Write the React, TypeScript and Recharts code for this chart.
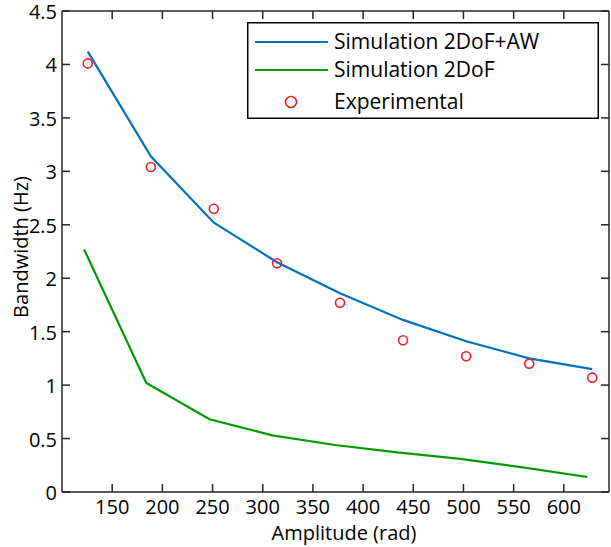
import {
  ComposedChart,
  Label,
  Legend,
  Line,
  Scatter,
  XAxis,
  YAxis,
} from "recharts";

// amplitude (rad) vs bandwidth (Hz)
const simAwX = [125.7, 188.5, 251.3, 314.2, 377.0, 439.8, 502.7, 565.5, 628.3];
const simAwY = [4.12, 3.14, 2.52, 2.15, 1.86, 1.61, 1.41, 1.25, 1.15];

const sim2dofX = [122, 184, 247, 309.5, 372, 434, 497, 559, 623.5];
const sim2dofY = [2.27, 1.02, 0.68, 0.53, 0.44, 0.37, 0.31, 0.23, 0.14];

const expX = [125.7, 188.5, 251.3, 314.2, 377.0, 439.8, 502.7, 565.5, 628.3];
const expY = [4.01, 3.04, 2.65, 2.14, 1.77, 1.42, 1.27, 1.2, 1.07];

const xTicks = [150, 200, 250, 300, 350, 400, 450, 500, 550, 600];
const yTicks = [0, 0.5, 1, 1.5, 2, 2.5, 3, 3.5, 4, 4.5];

const BLUE = "#0072bd";
const GREEN = "#009a00";
const RED = "#ee1c25";
const AXIS = "#262626";
const FONT = "'Open Sans', sans-serif";
const TICK_LEN = 8;

const zip = (xs: number[], ys: number[]) => xs.map((x, i) => ({ x, y: ys[i] }));
const simAw = zip(simAwX, simAwY);
const sim2dof = zip(sim2dofX, sim2dofY);
const exp = zip(expX, expY);

const BottomTick = (props: any) => {
  const { x, y, payload } = props;
  return (
    <g>
      <line x1={x} y1={y} x2={x} y2={y - TICK_LEN} stroke={AXIS} strokeWidth={1.5} />
      <text x={x} y={y + 22} textAnchor="middle" fontSize={20} fontFamily={FONT} fill="#000">
        {payload.value}
      </text>
    </g>
  );
};

const TopTick = (props: any) => {
  const { x, y } = props;
  return <line x1={x} y1={y} x2={x} y2={y + TICK_LEN} stroke={AXIS} strokeWidth={1.5} />;
};

const LeftTick = (props: any) => {
  const { x, y, payload } = props;
  return (
    <g>
      <line x1={x} y1={y} x2={x + TICK_LEN} y2={y} stroke={AXIS} strokeWidth={1.5} />
      <text x={x - 5} y={y + 8} textAnchor="end" fontSize={20} fontFamily={FONT} fill="#000">
        {payload.value}
      </text>
    </g>
  );
};

const RightTick = (props: any) => {
  const { x, y } = props;
  return <line x1={x} y1={y} x2={x - TICK_LEN} y2={y} stroke={AXIS} strokeWidth={1.5} />;
};

const Circle = (props: any) => (
  <circle cx={props.cx} cy={props.cy} r={4.5} fill="none" stroke={RED} strokeWidth={1.6} />
);

const LegendBox = () => (
  <svg width={352} height={97} style={{ display: "block" }}>
    <rect x={0.75} y={0.75} width={350.5} height={95.5} fill="#fff" stroke="#000" strokeWidth={1.5} />
    <line x1={8} y1={20} x2={81} y2={20} stroke={BLUE} strokeWidth={2} />
    <text x={87} y={27} fontSize={21} fontFamily={FONT} fill="#000">Simulation 2DoF+AW</text>
    <line x1={8} y1={48} x2={81} y2={48} stroke={GREEN} strokeWidth={2} />
    <text x={87} y={55} fontSize={21} fontFamily={FONT} fill="#000">Simulation 2DoF</text>
    <circle cx={44} cy={80} r={5.5} fill="none" stroke={RED} strokeWidth={1.6} />
    <text x={87} y={87} fontSize={21} fontFamily={FONT} fill="#000">Experimental</text>
  </svg>
);

export default function App() {
  return (
    <div style={{ position: "absolute", left: 0, top: 0, background: "#fff" }}>
      <ComposedChart
        width={611}
        height={547}
        margin={{ top: 10, right: 1, bottom: 54, left: 61 }}
      >
        <XAxis
          xAxisId="b"
          dataKey="x"
          type="number"
          domain={[100, 645]}
          ticks={xTicks}
          allowDataOverflow
          height={1}
          tickSize={0}
          tickMargin={0}
          tick={<BottomTick />}
          stroke={AXIS}
          strokeWidth={1.5}
        >
          <Label
            content={() => (
              <text x={344} y={540} textAnchor="middle" fontSize={20} fontFamily={FONT} fill="#000">
                Amplitude (rad)
              </text>
            )}
          />
        </XAxis>
        <XAxis
          xAxisId="t"
          orientation="top"
          dataKey="x"
          type="number"
          domain={[100, 645]}
          ticks={xTicks}
          allowDataOverflow
          height={1}
          tickSize={0}
          tickMargin={0}
          tick={<TopTick />}
          stroke={AXIS}
          strokeWidth={1.5}
        />
        <YAxis
          yAxisId="l"
          type="number"
          domain={[0, 4.5]}
          ticks={yTicks}
          allowDataOverflow
          width={1}
          tickSize={0}
          tickMargin={0}
          tick={<LeftTick />}
          stroke={AXIS}
          strokeWidth={1.5}
        >
          <Label
            content={() => (
              <text
                x={28}
                y={247}
                transform="rotate(-90 28 247)"
                textAnchor="middle"
                fontSize={20}
                fontFamily={FONT}
                fill="#000"
              >
                Bandwidth (Hz)
              </text>
            )}
          />
        </YAxis>
        <YAxis
          yAxisId="r"
          orientation="right"
          type="number"
          domain={[0, 4.5]}
          ticks={yTicks}
          allowDataOverflow
          width={1}
          tickSize={0}
          tickMargin={0}
          tick={<RightTick />}
          stroke={AXIS}
          strokeWidth={1.5}
        />
        <Line
          xAxisId="b"
          yAxisId="l"
          data={simAw}
          dataKey="y"
          type="linear"
          stroke={BLUE}
          strokeWidth={2.2}
          dot={false}
          isAnimationActive={false}
        />
        <Line
          xAxisId="b"
          yAxisId="l"
          data={sim2dof}
          dataKey="y"
          type="linear"
          stroke={GREEN}
          strokeWidth={2.2}
          dot={false}
          isAnimationActive={false}
        />
        <Scatter
          xAxisId="b"
          yAxisId="l"
          data={exp}
          dataKey="y"
          shape={<Circle />}
          isAnimationActive={false}
        />
        <Legend
          layout="vertical"
          align="center"
          verticalAlign="middle"
          content={<LegendBox />}
          wrapperStyle={{ position: "absolute", left: 247, top: 22, width: 352, height: 97 }}
        />
      </ComposedChart>
    </div>
  );
}
